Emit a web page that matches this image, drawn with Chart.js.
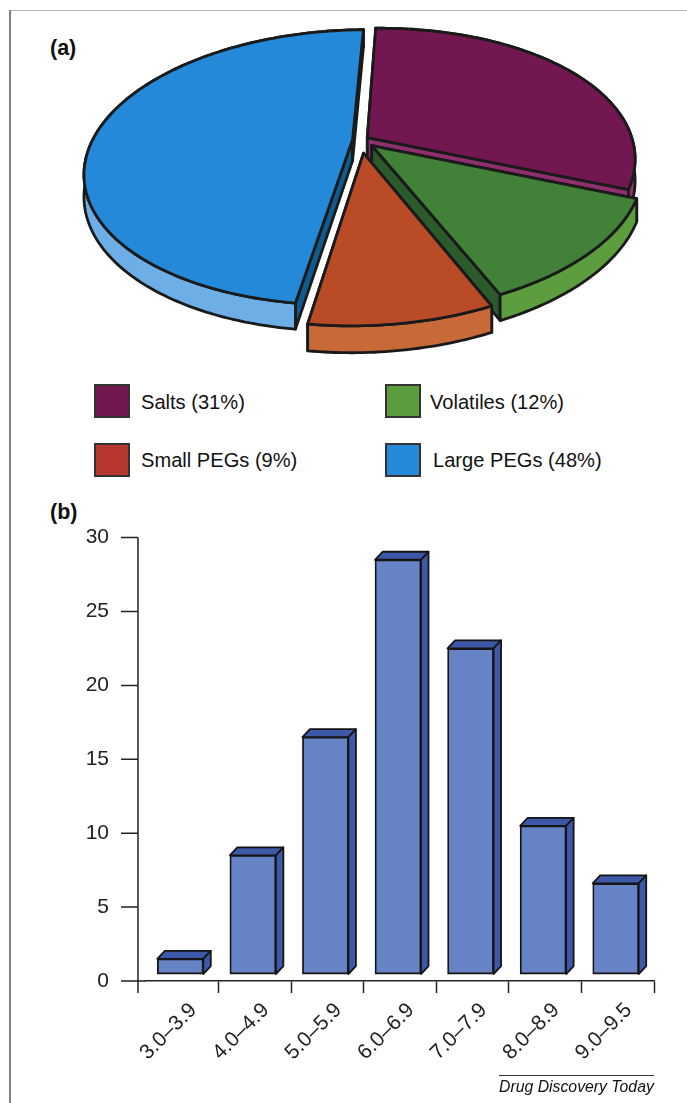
<!DOCTYPE html>
<html>
<head>
<meta charset="utf-8">
<title>Drug Discovery Today</title>
<script src="https://cdn.jsdelivr.net/npm/chart.js@4/dist/chart.umd.min.js"></script>
<style>
    html, body { margin: 0; padding: 0; background: #fff; }
    body { position: relative; width: 687px; height: 1103px; overflow: hidden; font-family: "Liberation Sans", Arial, sans-serif; color: #111; }
    canvas { position: absolute; left: 0; }
    .rule { position: absolute; }
    .panel { position: absolute; left: 50px; font-size: 21.5px; font-weight: bold; line-height: 24px; }
    .swatch { position: absolute; width: 32px; height: 30px; border: 2px solid #333; }
    .key { position: absolute; font-size: 20.1px; line-height: 24px; white-space: nowrap; }
    .source { position: absolute; left: 499px; top: 1078px; font-size: 15.8px; font-style: italic; line-height: 18px; white-space: nowrap; }
</style>
</head>
<body>

<div class="rule" style="left:9px;top:10px;width:678px;height:1px;background:#b5b5b5"></div>
<div class="rule" style="left:9px;top:10px;width:2px;height:1093px;background:#808080"></div>
<div class="panel" style="top:36px">(a)</div>
<div class="panel" style="top:500px">(b)</div>

<canvas id="pieChart" width="687" height="370" style="top:0"></canvas>
<div id="pieKey"></div>
<canvas id="barChart" width="687" height="607" style="top:496px"></canvas>

<div class="rule" style="left:499px;top:1075px;width:155px;height:1px;background:#333"></div>
<div class="source">Drug Discovery Today</div>

<script>
// pie (a)
const pieLabels = ["Salts (31%)", "Volatiles (12%)", "Small PEGs (9%)", "Large PEGs (48%)"];
const pieValues = [31, 12, 9, 48];
const pieTopColors = ["#72174f", "#428138", "#b94b26", "#2489d8"];
const pieOuterColors = ["#8e2f6e", "#5c9e3e", "#c76a38", "#6daee6"];
const pieEdgeColors = ["#8e2f6e", "#2b5a2c", "#b94b26", "#0d5b8f"];
const pieKeyColors = ["#72174f", "#5c9e3e", "#b8372e", "#2489d8"];
const pieOffsets = [8, 16, 26, 8];
const pieDrawOrder = [0, 1, 3, 2];

// bars (b)
const barLabels = ["3.0–3.9", "4.0–4.9", "5.0–5.9", "6.0–6.9", "7.0–7.9", "8.0–8.9", "9.0–9.5"];
const barValues = [1.5, 8.5, 16.5, 28.5, 22.5, 10.5, 6.6];
const barBase = 0.47;

// legend below the pie
const keySpots = [[94, 384, 141, 390], [385, 384, 430, 390], [94, 443, 141, 448], [385, 443, 433, 448]];
const pieKey = document.getElementById("pieKey");
for (let i = 0; i < pieLabels.length; i++) {
    const swatch = document.createElement("div");
    swatch.className = "swatch";
    swatch.style.left = keySpots[i][0] + "px";
    swatch.style.top = keySpots[i][1] + "px";
    swatch.style.background = pieKeyColors[i];
    pieKey.appendChild(swatch);

    const key = document.createElement("div");
    key.className = "key";
    key.style.left = keySpots[i][2] + "px";
    key.style.top = keySpots[i][3] + "px";
    key.textContent = pieLabels[i];
    pieKey.appendChild(key);
}

// the pie lies on a table seen from above, so flatten it and make the front bigger
const tilt = { cx: 360.5, cy: 140, a: 263, b: 132, k: 0.2, shear: 0.025, depth: 21 };

function project(u, v, down) {
    const p = 1 / (1 - tilt.k * v);
    const x = tilt.a * u * p;
    return { x: tilt.cx + x, y: tilt.cy + tilt.b * v * p - tilt.shear * x + down * tilt.depth * p };
}

function fillShape(ctx, points, color) {
    ctx.beginPath();
    points.forEach((pt, i) => i ? ctx.lineTo(pt.x, pt.y) : ctx.moveTo(pt.x, pt.y));
    ctx.closePath();
    ctx.fillStyle = color;
    ctx.fill();
    ctx.stroke();
}

const tiltedPie = {
    id: "tiltedPie",
    beforeDatasetDraw(chart, args) {
        const ctx = chart.ctx;
        const arcs = args.meta.data;
        ctx.save();
        ctx.lineWidth = 2.8;
        ctx.lineJoin = "round";
        ctx.strokeStyle = "#1a1a1a";

        pieDrawOrder.forEach(i => {
            const arc = arcs[i];
            const mid = (arc.startAngle + arc.endAngle) / 2;
            const ox = Math.cos(mid) * arc.options.offset / tilt.a;
            const oy = Math.sin(mid) * arc.options.offset / tilt.a;

            const top = [];
            const bottom = [];
            const steps = Math.ceil((arc.endAngle - arc.startAngle) * 60);
            for (let s = 0; s <= steps; s++) {
                const ang = arc.startAngle + (arc.endAngle - arc.startAngle) * s / steps;
                top.push(project(ox + Math.cos(ang), oy + Math.sin(ang), 0));
                bottom.push(project(ox + Math.cos(ang), oy + Math.sin(ang), 1));
            }
            const apexTop = project(ox, oy, 0);
            const apexBottom = project(ox, oy, 1);

            fillShape(ctx, [apexTop, top[0], bottom[0], apexBottom], pieEdgeColors[i]);
            fillShape(ctx, [apexTop, top[steps], bottom[steps], apexBottom], pieEdgeColors[i]);
            fillShape(ctx, top.concat(bottom.slice().reverse()), pieOuterColors[i]);
            fillShape(ctx, [apexTop].concat(top), arc.options.backgroundColor);
        });

        ctx.restore();
        return false;
    }
};

new Chart(document.getElementById("pieChart"), {
    type: "pie",
    data: {
        labels: pieLabels,
        datasets: [{
            data: pieValues,
            backgroundColor: pieTopColors,
            offset: pieOffsets
        }]
    },
    options: {
        responsive: false,
        animation: false,
        rotation: 2.5,
        events: [],
        plugins: { legend: { display: false }, tooltip: { enabled: false } }
    },
    plugins: [tiltedPie]
});

// bars get a top and a side, the front is moved a bit to the left of the band
const boxDepth = { x: 7.5, y: 8, shift: -2 };

const boxBars = {
    id: "boxBars",
    beforeDatasetDraw(chart, args) {
        const ctx = chart.ctx;
        ctx.save();
        ctx.translate(boxDepth.shift, 0);
        ctx.save();
        ctx.lineWidth = 1.8;
        ctx.lineJoin = "round";
        ctx.strokeStyle = "#151515";
        args.meta.data.forEach(bar => {
            const left = bar.x - bar.width / 2;
            const right = bar.x + bar.width / 2;
            fillShape(ctx, [
                { x: left, y: bar.y },
                { x: left + boxDepth.x, y: bar.y - boxDepth.y },
                { x: right + boxDepth.x, y: bar.y - boxDepth.y },
                { x: right, y: bar.y }
            ], "#3c58a6");
            fillShape(ctx, [
                { x: right, y: bar.y },
                { x: right + boxDepth.x, y: bar.y - boxDepth.y },
                { x: right + boxDepth.x, y: bar.base - boxDepth.y },
                { x: right, y: bar.base }
            ], "#3c58a6");
        });
        ctx.restore();
    },
    afterDatasetDraw(chart) {
        chart.ctx.restore();
    },
    // value axis stands left of the first band
    afterDraw(chart) {
        const ctx = chart.ctx;
        const yAxis = chart.scales.y;
        const axisX = 138;
        const bottom = yAxis.getPixelForValue(0);
        ctx.save();
        ctx.strokeStyle = "#222";
        ctx.lineWidth = 1.5;
        ctx.beginPath();
        ctx.moveTo(axisX, yAxis.getPixelForValue(30));
        ctx.lineTo(axisX, bottom + 12);
        ctx.moveTo(axisX, bottom);
        ctx.lineTo(chart.chartArea.left, bottom);
        yAxis.ticks.forEach(t => {
            const py = yAxis.getPixelForValue(t.value);
            ctx.moveTo(axisX - 17, py);
            ctx.lineTo(axisX, py);
        });
        ctx.stroke();
        ctx.restore();
    }
};

new Chart(document.getElementById("barChart"), {
    type: "bar",
    data: {
        labels: barLabels,
        datasets: [{
            data: barValues,
            base: barBase,
            backgroundColor: "#6583c5",
            borderColor: "#151515",
            borderWidth: 1.8,
            borderSkipped: false,
            barThickness: 46
        }]
    },
    options: {
        responsive: false,
        animation: false,
        events: [],
        layout: { padding: { top: 22, right: 33 } },
        plugins: { legend: { display: false }, tooltip: { enabled: false } },
        scales: {
            x: {
                afterFit(scale) { scale.height = 122; },
                grid: {
                    offset: true,
                    drawOnChartArea: false,
                    tickLength: 12,
                    tickWidth: 1.5,
                    color: c => c.index === 0 ? "rgba(0,0,0,0)" : "#222"
                },
                border: { color: "#222", width: 1.5 },
                ticks: {
                    autoSkip: false,
                    minRotation: 45,
                    maxRotation: 45,
                    padding: 5,
                    labelOffset: 11,
                    color: "#222",
                    font: { family: "'Liberation Sans'", size: 21 }
                }
            },
            y: {
                min: 0,
                max: 30,
                afterFit(scale) { scale.width = 146; },
                grid: { display: false },
                border: { display: false },
                ticks: {
                    stepSize: 5,
                    padding: 29,
                    color: "#222",
                    font: { family: "'Liberation Sans'", size: 21 }
                }
            }
        }
    },
    plugins: [boxBars]
});
</script>
</body>
</html>
